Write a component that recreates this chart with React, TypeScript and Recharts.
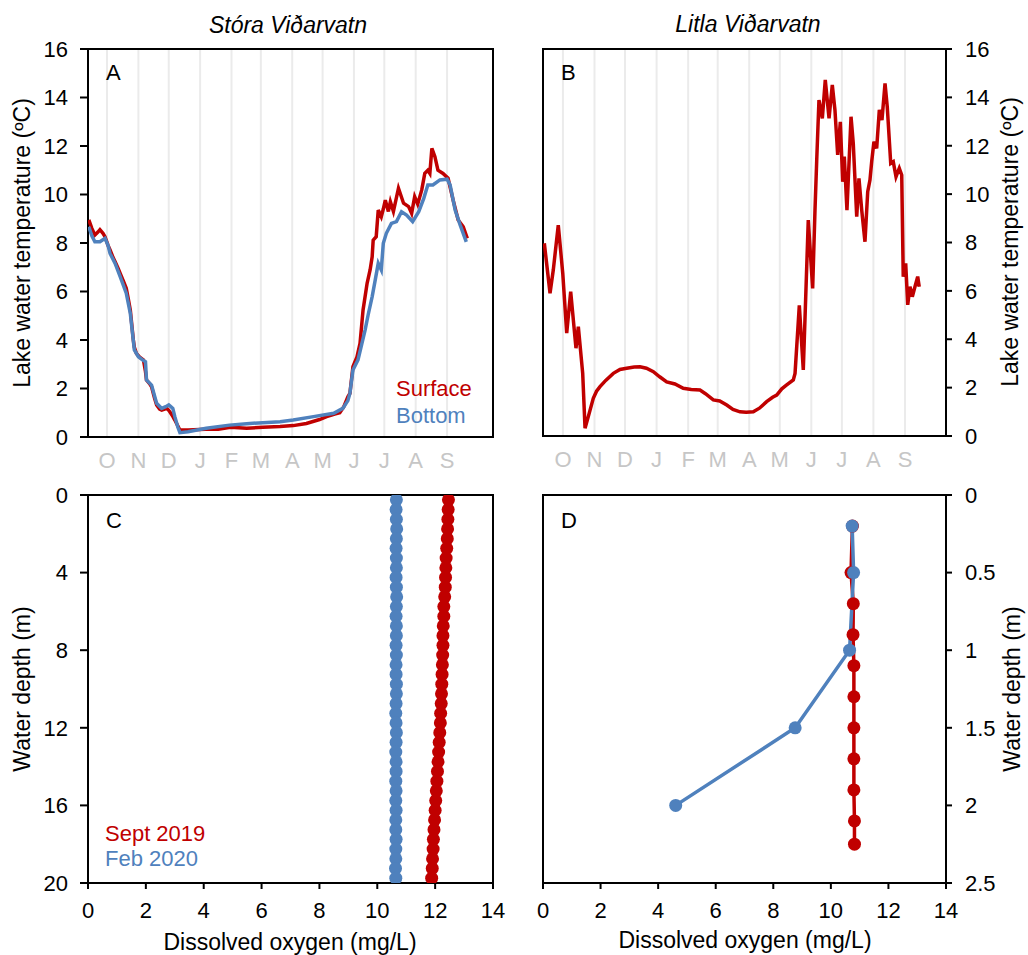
import React from "react";
import {
  LineChart,
  Line,
  XAxis,
  YAxis,
  CartesianGrid,
  ReferenceArea,
} from "recharts";

const RED = "#C00000";
const BLUE = "#4F81BD";
const FONT = "'Liberation Sans', Arial, sans-serif";

// x axis of the temperature panels: days since 1 Sep 2019
const monthDays = [30, 61, 91, 122, 153, 182, 213, 243, 274, 304, 335, 366];
const monthLetters = ["O", "N", "D", "J", "F", "M", "A", "M", "J", "J", "A", "S"];

const tempTicks = [0, 2, 4, 6, 8, 10, 12, 14, 16];
const doTicks = [0, 2, 4, 6, 8, 10, 12, 14];
const depthTicksC = [0, 4, 8, 12, 16, 20];
const depthTicksD = [0, 0.5, 1, 1.5, 2, 2.5];

// A: Stóra Viðarvatn, surface logger
const storaSurfDay = [
  12, 15, 18, 21, 23, 26, 28, 31, 33, 36,
  38, 41, 43, 46, 49, 51, 53, 56, 57, 59,
  62, 66, 68, 69, 72, 74, 77, 79, 82, 84,
  87, 89, 91, 93, 95, 97, 100, 102, 110, 127,
  140, 152, 168, 184, 201, 214, 227, 240, 247, 255,
  260, 264, 268, 270, 273, 277, 280, 283, 287, 290,
  292, 293, 296, 298, 301, 303, 305, 308, 310, 313,
  318, 323, 328, 331, 334, 337, 341, 344, 347, 349,
  351, 354, 357, 362, 367, 372, 377, 382, 386,
];
const storaSurfTemp = [
  8.95, 8.6, 8.33, 8.45, 8.55, 8.4, 8.26, 7.9, 7.71, 7.4,
  7.23, 6.95, 6.75, 6.45, 6.13, 5.7, 5.24, 4.0, 3.7, 3.45,
  3.3, 3.18, 2.7, 2.35, 2.2, 2.07, 1.6, 1.32, 1.15, 1.11,
  1.15, 1.18, 1.1, 0.98, 0.85, 0.7, 0.45, 0.29, 0.29, 0.32,
  0.32, 0.4, 0.36, 0.4, 0.43, 0.47, 0.56, 0.72, 0.84, 0.95,
  1.0, 1.25, 1.66, 1.8, 2.9, 3.3, 3.86, 5.24, 6.34, 6.9,
  7.43, 8.12, 8.26, 9.36, 9.08, 9.4, 9.77, 9.3, 9.7, 9.3,
  10.26, 9.64, 9.5, 9.22, 9.91, 9.6, 10.19, 10.87, 11.0, 10.87,
  11.9, 11.56, 11.0, 10.87, 10.67, 9.77, 8.95, 8.67, 8.19,
];

// A: Stóra Viðarvatn, bottom logger
const storaBotDay = [
  12, 15, 18, 23, 28, 31, 33, 38, 43, 49,
  53, 57, 61, 66, 68, 69, 74, 79, 84, 88,
  91, 93, 95, 97, 100, 102, 110, 128, 151, 168,
  184, 201, 214, 234, 254, 263, 268, 270, 273, 278,
  285, 288, 292, 295, 298, 301, 303, 306, 311, 316,
  321, 326, 332, 338, 343, 347, 352, 359, 366, 369,
  374, 379, 385,
];
const storaBotTemp = [
  8.67, 8.3, 8.05, 8.05, 8.19, 7.9, 7.57, 7.16, 6.61, 5.93,
  5.1, 3.59, 3.31, 3.15, 3.1, 2.35, 2.14, 1.39, 1.18, 1.25,
  1.32, 1.25, 1.18, 0.84, 0.4, 0.18, 0.22, 0.36, 0.49, 0.55,
  0.59, 0.63, 0.7, 0.84, 0.98, 1.18, 1.5, 1.8, 2.76, 3.18,
  4.41, 5.03, 5.79, 6.47, 7.16, 6.89, 7.99, 8.4, 8.81, 8.88,
  9.29, 9.15, 8.88, 9.29, 9.84, 10.39, 10.39, 10.6, 10.63, 10.4,
  9.36, 8.74, 8.05,
];

// B: Litla Viðarvatn
const litlaDay = [
  11.7, 17.3, 20.5, 25.4, 29.8, 33.7, 37.6, 42.8, 45.1, 49.4,
  51.7, 54.9, 59.8, 63, 66.4, 72, 79.5, 86, 92.6, 100,
  105.7, 112, 118.8, 125, 131.9, 140, 148.2, 156, 164.6, 170,
  177.7, 184, 190.9, 197, 203.9, 210, 217, 223, 230.1, 236,
  240, 245, 249.8, 256.3, 258, 262.2, 266.1, 271, 275.3, 277.6,
  279.3, 281.5, 284.8, 287.7, 291.4, 294.6, 297.2, 299.9, 302.5, 304.8,
  306.4, 309, 313, 315.2, 318.6, 320.8, 323.5, 326.7, 329.4, 331.6,
  333.3, 335.5, 338.2, 340.8, 343.4, 346.4, 348.6, 352, 354.5, 357.2,
  360.4, 362.8, 364.3, 366.7, 368.7, 370.9, 373.2, 375.8, 378.5, 380,
];
const litlaTemp = [
  7.97, 5.9, 6.86, 8.72, 6.73, 4.25, 5.97, 3.63, 4.52, 2.59,
  0.32, 0.8, 1.56, 1.85, 2.04, 2.3, 2.59, 2.75, 2.8, 2.85,
  2.86, 2.8, 2.66, 2.45, 2.24, 2.15, 1.97, 1.92, 1.9, 1.75,
  1.49, 1.45, 1.28, 1.1, 1.0, 0.98, 1.0, 1.15, 1.42, 1.6,
  1.69, 1.95, 2.11, 2.32, 2.59, 5.4, 2.73, 8.93, 6.1, 9.34,
  11.4, 13.89, 13.13, 14.72, 13.13, 14.51, 13.48, 11.62, 12.99, 10.51,
  11.55, 9.34, 13.2, 12.1, 9.07, 10.65, 9.34, 8.03, 10.1, 10.58,
  11.34, 12.17, 11.89, 13.48, 13.06, 14.58, 13.61, 11.27, 11.34, 10.72,
  11.07, 10.79, 6.59, 7.14, 5.42, 6.17, 5.76, 6.17, 6.59, 6.17,
];

// C: Stóra Viðarvatn oxygen profiles
const depthC = [
  0.25, 0.75, 1.25, 1.75, 2.25, 2.75, 3.25, 3.75, 4.25, 4.75,
  5.25, 5.75, 6.25, 6.75, 7.25, 7.75, 8.25, 8.75, 9.25, 9.75,
  10.25, 10.75, 11.25, 11.75, 12.25, 12.75, 13.25, 13.75, 14.25, 14.75,
  15.25, 15.75, 16.25, 16.75, 17.25, 17.75, 18.25, 18.75, 19.25, 19.75,
];
const septDoC = [
  12.46, 12.45, 12.44, 12.43, 12.42, 12.4, 12.38, 12.37, 12.36, 12.35,
  12.33, 12.3, 12.3, 12.28, 12.27, 12.27, 12.26, 12.25, 12.24, 12.23,
  12.22, 12.21, 12.19, 12.18, 12.16, 12.14, 12.12, 12.1, 12.08, 12.06,
  12.04, 12.02, 12.0, 11.98, 11.96, 11.94, 11.93, 11.91, 11.9, 11.88,
];
const febDoC = [
  10.66, 10.65, 10.66, 10.67, 10.66, 10.65, 10.66, 10.66, 10.65, 10.66,
  10.67, 10.66, 10.65, 10.66, 10.66, 10.65, 10.66, 10.65, 10.65, 10.66,
  10.66, 10.65, 10.64, 10.65, 10.66, 10.65, 10.64, 10.65, 10.65, 10.64,
  10.65, 10.64, 10.65, 10.64, 10.64, 10.65, 10.64, 10.64, 10.63, 10.64,
];

// D: Litla Viðarvatn oxygen profiles
const septDepthD = [0.2, 0.5, 0.7, 0.9, 1.1, 1.3, 1.5, 1.7, 1.9, 2.1, 2.25];
const septDoD = [10.75, 10.7, 10.78, 10.77, 10.8, 10.8, 10.8, 10.8, 10.8, 10.82, 10.82];
const febDepthD = [0.2, 0.5, 1.0, 1.5, 2.0];
const febDoD = [10.74, 10.79, 10.65, 8.76, 4.61];

const zip = (xs: number[], ys: number[], xk: string, yk: string) =>
  xs.map((x, i) => ({ [xk]: x, [yk]: ys[i] }));

const storaSurface = zip(storaSurfDay, storaSurfTemp, "day", "temp");
const storaBottom = zip(storaBotDay, storaBotTemp, "day", "temp");
const litla = zip(litlaDay, litlaTemp, "day", "temp");
const septC = zip(septDoC, depthC, "do", "depth");
const febC = zip(febDoC, depthC, "do", "depth");
const septD = zip(septDoD, septDepthD, "do", "depth");
const febD = zip(febDoD, febDepthD, "do", "depth");

const monthLabel = (v: number) => monthLetters[monthDays.indexOf(v)] ?? "";

// custom tick renderers so the font size is exactly what we want
const makeTick =
  (anchor: "start" | "middle" | "end", dy: string, fill: string, fmt?: (v: number) => string) =>
  (p: any) => (
    <text
      x={p.x}
      y={p.y}
      dy={dy}
      textAnchor={anchor}
      fill={fill}
      fontSize={22}
      fontFamily={FONT}
    >
      {fmt ? fmt(p.payload.value) : String(p.payload.value)}
    </text>
  );

const monthTick = makeTick("middle", "0.71em", "#c6c6c6", monthLabel);
const bottomTick = makeTick("middle", "0.71em", "#000");
const leftTick = makeTick("end", "0.355em", "#000");
const rightTick = makeTick("start", "0.355em", "#000");

const blackTick = { stroke: "#000", strokeWidth: 2 };

const domA: [number, number] = [11.2, 411.4];
const domB: [number, number] = [10.4, 406.3];

export default function App() {
  return (
    <div
      style={{
        position: "relative",
        width: 1028,
        height: 955,
        background: "#fff",
        overflow: "hidden",
        fontFamily: FONT,
      }}
    >
      <style>{"body{margin:0}"}</style>

      {/* A */}
      <div style={{ position: "absolute", left: 0, top: 0 }}>
        <LineChart width={520} height={480} margin={{ top: 49, right: 27, bottom: 13, left: 0 }}>
          <CartesianGrid horizontal={false} stroke="#ebebeb" strokeWidth={2} />
          <XAxis
            type="number"
            dataKey="day"
            domain={domA}
            allowDataOverflow
            ticks={monthDays}
            interval={0}
            tickLine={false}
            axisLine={false}
            tickSize={0}
            tickMargin={15}
            height={30}
            tick={monthTick}
          />
          <YAxis
            type="number"
            domain={[0, 16]}
            allowDataOverflow
            ticks={tempTicks}
            interval={0}
            width={88}
            tickSize={8}
            tickMargin={12}
            axisLine={false}
            tickLine={blackTick}
            tick={leftTick}
          />
          <ReferenceArea x1={domA[0]} x2={domA[1]} y1={0} y2={16} fill="none" stroke="#000" strokeWidth={2} ifOverflow="visible" />
          <Line data={storaSurface} dataKey="temp" type="linear" stroke={RED} strokeWidth={3.5} dot={false} isAnimationActive={false} />
          <Line data={storaBottom} dataKey="temp" type="linear" stroke={BLUE} strokeWidth={3.5} dot={false} isAnimationActive={false} />
        </LineChart>
      </div>

      {/* B */}
      <div style={{ position: "absolute", left: 520, top: 0 }}>
        <LineChart width={508} height={480} margin={{ top: 49, right: 0, bottom: 14, left: 23 }}>
          <CartesianGrid horizontal={false} stroke="#ebebeb" strokeWidth={2} />
          <XAxis
            type="number"
            dataKey="day"
            domain={domB}
            allowDataOverflow
            ticks={monthDays}
            interval={0}
            tickLine={false}
            axisLine={false}
            tickSize={0}
            tickMargin={15}
            height={30}
            tick={monthTick}
          />
          <YAxis
            type="number"
            orientation="right"
            domain={[0, 16]}
            allowDataOverflow
            ticks={tempTicks}
            interval={0}
            width={82}
            tickSize={6}
            tickMargin={13}
            axisLine={false}
            tickLine={blackTick}
            tick={rightTick}
          />
          <ReferenceArea x1={domB[0]} x2={domB[1]} y1={0} y2={16} fill="none" stroke="#000" strokeWidth={2} ifOverflow="visible" />
          <Line data={litla} dataKey="temp" type="linear" stroke={RED} strokeWidth={3.5} dot={false} isAnimationActive={false} />
        </LineChart>
      </div>

      {/* C */}
      <div style={{ position: "absolute", left: 0, top: 460 }}>
        <LineChart width={520} height={495} margin={{ top: 35, right: 27, bottom: 32, left: 0 }}>
          <XAxis
            type="number"
            dataKey="do"
            domain={[0, 14]}
            allowDataOverflow
            ticks={doTicks}
            interval={0}
            tickSize={6}
            tickMargin={13}
            height={40}
            axisLine={false}
            tickLine={blackTick}
            tick={bottomTick}
          />
          <YAxis
            type="number"
            reversed
            domain={[0, 20]}
            allowDataOverflow
            ticks={depthTicksC}
            interval={0}
            width={88}
            tickSize={8}
            tickMargin={12}
            axisLine={false}
            tickLine={blackTick}
            tick={leftTick}
          />
          <ReferenceArea x1={0} x2={14} y1={0} y2={20} fill="none" stroke="#000" strokeWidth={2} ifOverflow="visible" />
          <Line data={septC} dataKey="depth" type="linear" stroke={RED} strokeWidth={3} dot={{ r: 6.5, fill: RED, stroke: RED, strokeWidth: 0 }} isAnimationActive={false} />
          <Line data={febC} dataKey="depth" type="linear" stroke={BLUE} strokeWidth={3} dot={{ r: 6.5, fill: BLUE, stroke: BLUE, strokeWidth: 0 }} isAnimationActive={false} />
        </LineChart>
      </div>

      {/* D */}
      <div style={{ position: "absolute", left: 520, top: 460 }}>
        <LineChart width={508} height={495} margin={{ top: 35, right: 0, bottom: 32, left: 23 }}>
          <XAxis
            type="number"
            dataKey="do"
            domain={[0, 14]}
            allowDataOverflow
            ticks={doTicks}
            interval={0}
            tickSize={6}
            tickMargin={13}
            height={40}
            axisLine={false}
            tickLine={blackTick}
            tick={bottomTick}
          />
          <YAxis
            type="number"
            orientation="right"
            reversed
            domain={[0, 2.5]}
            allowDataOverflow
            ticks={depthTicksD}
            interval={0}
            width={82}
            tickSize={6}
            tickMargin={13}
            axisLine={false}
            tickLine={blackTick}
            tick={rightTick}
          />
          <ReferenceArea x1={0} x2={14} y1={0} y2={2.5} fill="none" stroke="#000" strokeWidth={2} ifOverflow="visible" />
          <Line data={septD} dataKey="depth" type="linear" stroke={RED} strokeWidth={3.5} dot={{ r: 6.5, fill: RED, stroke: RED, strokeWidth: 0 }} isAnimationActive={false} />
          <Line data={febD} dataKey="depth" type="linear" stroke={BLUE} strokeWidth={3.5} dot={{ r: 6.5, fill: BLUE, stroke: BLUE, strokeWidth: 0 }} isAnimationActive={false} />
        </LineChart>
      </div>

      {/* titles, axis titles, in-plot labels */}
      <svg
        width={1028}
        height={955}
        style={{ position: "absolute", left: 0, top: 0, pointerEvents: "none" }}
        fontFamily={FONT}
      >
        <text x={288} y={33} fontSize={23} fontStyle="italic" textAnchor="middle">Stóra Viðarvatn</text>
        <text x={748} y={32} fontSize={23} fontStyle="italic" textAnchor="middle">Litla Viðarvatn</text>

        <text transform="translate(22,243) rotate(-90)" fontSize={23} textAnchor="middle" dy="0.35em">Lake water temperature (ºC)</text>
        <text transform="translate(1010,242) rotate(-90)" fontSize={23} textAnchor="middle" dy="0.35em">Lake water temperature (ºC)</text>
        <text transform="translate(22,689) rotate(-90)" fontSize={23} textAnchor="middle" dy="0.35em">Water depth (m)</text>
        <text transform="translate(1012,689) rotate(-90)" fontSize={23} textAnchor="middle" dy="0.35em">Water depth (m)</text>

        <text x={290} y={950} fontSize={23} textAnchor="middle">Dissolved oxygen (mg/L)</text>
        <text x={745} y={948} fontSize={23} textAnchor="middle">Dissolved oxygen (mg/L)</text>

        <text x={106} y={80} fontSize={22}>A</text>
        <text x={561} y={80} fontSize={22}>B</text>
        <text x={106} y={528} fontSize={22}>C</text>
        <text x={561} y={528} fontSize={22}>D</text>

        <text x={396} y={396} fontSize={22} fill={RED}>Surface</text>
        <text x={396} y={423} fontSize={22} fill={BLUE}>Bottom</text>
        <text x={105} y={841} fontSize={22} fill={RED}>Sept 2019</text>
        <text x={105} y={866} fontSize={22} fill={BLUE}>Feb 2020</text>
      </svg>
    </div>
  );
}
